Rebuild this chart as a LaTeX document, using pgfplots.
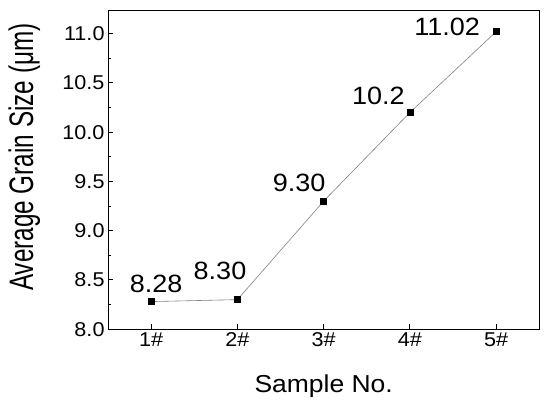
\documentclass[border=0pt]{standalone}
\usepackage{pgfplots}
\pgfplotsset{compat=1.18}
\usepackage{fontspec}
\setmainfont[FakeStretch=1.08]{Liberation Sans}
\newfontfamily\yfont[FakeStretch=0.714]{Liberation Sans}
\begin{document}
\begin{tikzpicture}
\begin{axis}[
  scale only axis,
  width=431pt, height=319pt,
  xmin=0.5, xmax=5.5,
  ymin=8.0, ymax=11.24,
  xtick={1,2,3,4,5},
  xticklabels={1\#,2\#,3\#,4\#,5\#},
  ytick={8.0,8.5,9.0,9.5,10.0,10.5,11.0},
  minor y tick num=1,
  yticklabel style={/pgf/number format/.cd,fixed,fixed zerofill,precision=1},
  /pgf/number format/assume math mode=true,
  tick pos=left,
  tick align=inside,
  major tick length=5pt,
  minor tick length=3pt,
  axis line style={line width=1pt},
  every tick/.style={black, line width=0.9pt},
  ticklabel style={font=\fontsize{20}{24}\selectfont},
  xlabel={Sample No.},
  ylabel={Average Grain Size (μm)},
  xlabel style={font=\fontsize{24.5}{28}\selectfont, at={(axis description cs:0.5,-0.1995)}, anchor=base},
  ylabel style={font=\yfont\fontsize{34}{38}\selectfont, at={(axis description cs:-0.174,0.539)}, anchor=base},
  clip=false,
]
\addplot[gray, line width=0.6pt, mark=square*, mark size=3pt,
  mark options={black, fill=black}]
  coordinates {(1,8.28) (2,8.30) (3,9.30) (4,10.2) (5,11.02)};
\begin{scope}[font=\fontsize{25}{29}\selectfont, inner sep=0pt]
\node[anchor=base] at (axis cs:1.058,8.368) {8.28};
\node[anchor=base east] at (axis cs:2.105,8.50) {8.30};
\node[anchor=base east] at (axis cs:3.023,9.394) {9.30};
\node[anchor=base east] at (axis cs:3.942,10.278) {10.2};
\node[anchor=base east] at (axis cs:4.814,10.98) {11.02};
\end{scope}
\end{axis}
\pgfresetboundingbox
\path[use as bounding box] ([shift={(-108pt,-80.7pt)}]current axis.south west) rectangle ([shift={(10.7pt,10pt)}]current axis.north east);
\end{tikzpicture}
\end{document}
